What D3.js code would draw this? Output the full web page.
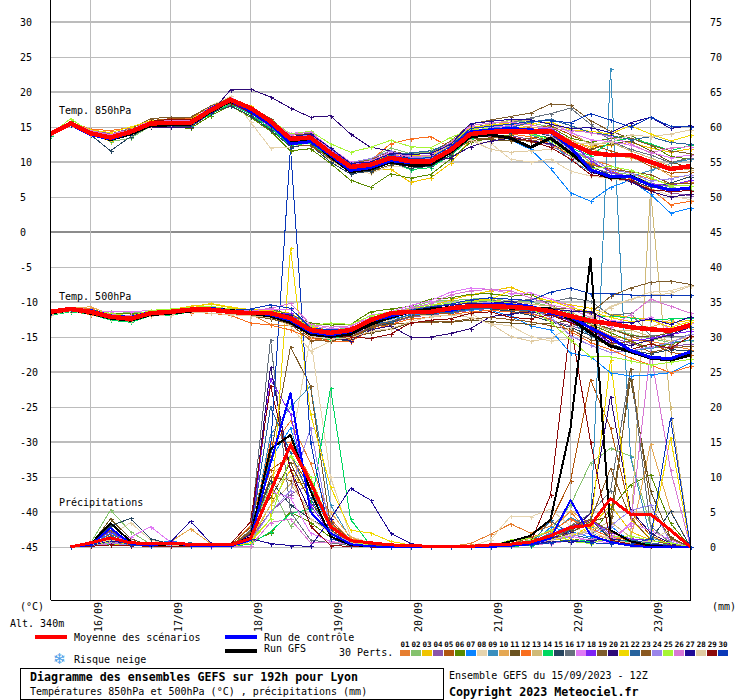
<!DOCTYPE html>
<html><head><meta charset="utf-8">
<script src="https://cdn.jsdelivr.net/npm/d3@7/dist/d3.min.js"></script>
<style>html,body{margin:0;padding:0;background:#fff}svg{display:block}text{font-family:"DejaVu Sans Mono",monospace;font-size:10px;fill:#000}</style>
</head><body><svg id="c" width="740" height="700"></svg>
<script>
const dates=["16/09","17/09","18/09","19/09","20/09","21/09","22/09","23/09"];
const dateSteps=[2,6,10,14,18,22,26,30];
const leftTicks=[30,25,20,15,10,5,0,-5,-10,-15,-20,-25,-30,-35,-40,-45];
const rightTicks=[75,70,65,60,55,50,45,40,35,30,25,20,15,10,5,0];
const pertColors=["#e67e30","#85c26d","#f0c400","#8b55a9","#b0560e","#5a8a00","#0a84ff","#e6d4ae","#3a8fbe","#e5a853","#6b5320","#f96e1e","#d0ba78","#00d860","#26455f","#66717d","#e07af5","#7d22f5","#7e5c2c","#2e0a78","#f0d800","#27639d","#8a5820","#9b85ea","#a6f535","#d877d4","#1e0a96","#e0cba2","#8c0a0a","#0a38b8"];

const t850Mean=[14.0,15.5,14.1,13.5,14.3,15.5,15.6,15.6,17.4,18.9,17.7,15.8,13.3,13.5,11.3,9.3,9.6,10.6,10.1,10.1,11.7,14.0,14.3,14.4,14.3,14.4,12.7,11.3,11.0,11.0,10.0,9.0,9.4];
const t850Control=[14.0,15.4,13.9,13.3,14.2,15.4,15.5,15.6,17.6,18.8,17.3,15.4,12.6,12.9,11.0,8.8,9.2,10.2,9.9,9.9,11.9,14.3,14.6,14.8,14.6,14.3,12.1,8.9,7.9,7.9,6.7,6.0,6.3];
const t850Gfs=[14.0,15.4,14.0,13.2,14.0,15.2,15.3,15.4,17.2,18.7,17.5,15.5,12.9,13.1,10.8,8.6,9.0,10.0,9.5,9.6,11.4,13.6,13.9,13.4,12.1,13.4,11.3,8.9,7.7,8.0,6.7,6.0,6.3];
const t850Perts=[
[14.1,15.6,14.4,13.8,14.6,15.8,15.9,15.4,17.6,18.6,17.2,15.2,12.8,13.1,11.0,9.0,9.2,10.2,9.8,9.7,11.2,13.6,13.9,14.2,14.0,14.1,11.6,10.4,9.5,8.4,7.6,6.8,7.2],
[13.9,15.3,14.2,12.9,13.4,15.1,15.6,15.5,17.0,18.4,17.6,15.9,13.6,14.0,11.8,9.9,10.4,12.0,11.2,11.4,12.6,14.8,15.4,16.0,15.6,15.0,12.0,10.0,8.6,8.2,7.0,6.4,6.0],
[14.0,15.4,13.9,13.0,14.2,15.7,15.8,15.8,17.8,19.1,18.0,16.0,13.2,13.4,10.9,8.4,8.8,9.0,7.1,7.7,9.8,13.2,14.6,15.0,14.8,14.2,12.9,12.2,12.4,12.8,12.0,11.4,11.9],
[14.2,15.5,14.6,14.0,14.8,15.4,15.2,15.0,16.9,18.2,17.0,15.0,12.6,12.9,10.6,8.8,9.4,10.6,10.4,10.2,11.8,14.2,13.6,13.8,13.2,12.4,10.8,9.2,8.4,8.0,6.6,5.6,5.2],
[13.8,15.7,14.0,13.2,14.4,15.9,16.2,16.3,17.9,19.2,17.9,15.8,12.9,13.0,10.8,8.9,9.1,9.8,9.4,9.9,11.6,13.8,14.8,14.6,14.9,15.2,13.9,12.6,11.6,10.8,9.4,8.4,8.6],
[14.0,15.8,13.8,13.4,14.1,15.2,15.0,14.8,16.6,18.0,16.4,14.4,11.6,11.9,9.8,7.4,6.4,8.3,7.7,8.2,10.4,12.8,13.4,13.9,14.2,15.0,13.4,12.8,13.4,13.8,12.4,10.8,10.4],
[14.1,15.5,14.3,13.6,14.3,15.5,15.7,15.6,17.2,18.9,17.4,15.4,13.0,13.2,11.2,9.4,9.8,10.8,10.6,10.7,12.2,13.9,14.0,13.2,11.8,9.1,5.6,4.4,6.4,7.4,5.4,2.7,3.4],
[13.9,15.6,14.1,13.7,14.0,15.3,15.4,15.7,18.0,19.4,15.7,12.0,12.1,12.8,10.2,8.6,8.4,9.4,9.2,9.6,11.4,13.0,12.7,10.4,10.0,10.4,8.7,8.0,7.6,7.2,6.2,5.2,4.6],
[14.0,15.4,14.2,13.4,14.2,15.6,15.5,15.3,17.3,18.7,17.1,15.1,12.4,13.0,11.1,9.2,9.5,10.5,9.9,10.0,11.5,14.4,14.9,15.1,13.9,12.8,10.3,8.6,8.0,7.9,8.8,9.8,10.4],
[13.8,15.5,14.5,13.9,14.7,15.6,15.7,15.9,17.7,18.8,17.5,15.6,13.4,13.6,11.5,9.6,9.9,10.9,10.8,10.3,11.9,14.6,15.2,15.4,15.0,14.6,13.2,11.9,11.0,10.6,9.8,8.0,7.8],
[14.1,15.6,14.0,13.3,14.1,15.4,15.3,15.5,17.1,18.5,17.3,15.3,12.7,12.6,10.4,8.7,8.6,9.6,9.6,9.8,11.3,13.4,13.2,13.0,13.4,13.8,12.2,11.8,12.6,13.0,11.6,10.0,9.2],
[14.0,15.7,14.7,14.5,14.9,15.8,16.0,16.2,17.5,18.9,17.8,15.7,13.1,13.3,11.4,9.7,10.2,12.6,13.3,13.6,12.1,14.1,14.5,14.0,13.6,12.6,11.0,9.8,8.8,7.6,6.2,3.9,4.4],
[14.2,15.4,14.3,13.9,14.5,15.5,15.6,15.8,17.9,19.0,17.7,15.5,13.5,13.7,11.6,9.5,9.7,11.1,10.9,10.8,12.4,14.7,15.5,15.9,15.9,15.4,14.4,12.4,12.8,11.6,10.6,9.4,8.8],
[13.7,15.3,14.0,13.1,13.9,15.1,15.2,15.2,16.8,18.3,16.8,14.8,12.4,12.7,10.6,8.5,9.0,10.1,8.9,9.2,10.9,13.3,14.0,14.3,14.1,13.3,12.0,10.9,12.9,13.4,12.6,11.6,12.4],
[14.0,15.5,13.9,11.6,13.6,15.2,15.1,15.0,17.0,18.0,16.6,14.6,12.2,12.4,10.0,8.3,8.7,9.9,9.1,9.4,11.0,13.7,14.2,14.1,14.4,13.7,11.9,9.4,8.1,7.4,6.4,7.0,7.9],
[14.3,15.6,14.2,13.5,14.4,15.7,15.9,16.0,17.5,18.6,17.0,15.2,13.0,13.2,11.1,9.1,9.4,10.3,10.0,10.3,12.0,15.0,15.3,15.6,16.3,16.9,17.7,15.4,13.0,11.8,11.0,9.9,10.6],
[13.9,15.5,14.3,13.7,14.6,15.9,15.9,15.7,17.6,18.7,17.2,15.6,14.1,14.3,12.0,10.0,10.1,11.4,10.8,10.9,12.6,15.1,15.0,15.2,15.5,15.7,14.2,13.2,12.9,12.4,11.4,10.6,11.0],
[14.0,15.4,14.1,13.6,14.3,15.6,15.8,15.6,17.4,18.4,17.0,15.1,13.4,13.8,11.7,9.7,10.0,11.0,10.5,10.4,12.3,14.5,14.4,14.7,14.6,14.9,12.9,10.2,8.6,7.8,6.9,6.6,7.4],
[13.8,15.6,14.4,13.8,14.7,16.2,16.4,16.4,18.0,19.0,17.9,16.2,13.8,14.1,11.9,9.8,10.3,11.6,11.0,11.3,13.0,15.4,16.0,16.5,17.0,18.3,18.1,15.9,14.4,13.4,12.4,11.6,11.2],
[14.0,15.4,14.0,13.4,14.2,15.0,15.0,15.0,17.0,20.3,20.4,19.3,17.7,16.4,16.6,14.0,12.1,11.6,10.4,10.0,10.6,12.2,13.0,13.4,13.0,12.6,11.4,8.5,8.0,7.2,5.8,5.0,5.4],
[14.1,15.7,14.6,14.2,15.0,15.9,16.0,16.1,17.7,19.0,17.6,15.8,13.3,13.6,11.3,9.5,9.9,11.2,11.0,10.9,12.7,14.9,15.3,15.6,15.5,15.7,14.6,14.4,14.0,15.2,14.0,13.0,13.8],
[14.0,15.5,14.2,13.5,14.3,15.5,15.6,15.4,17.3,18.6,17.3,15.4,13.2,13.5,11.4,9.5,9.8,11.0,11.3,11.6,12.6,14.3,14.7,14.9,15.7,16.1,15.2,14.2,13.8,13.2,13.6,12.8,12.5],
[13.9,15.4,14.1,13.6,14.1,15.3,15.4,15.3,17.1,18.6,17.6,15.6,12.5,12.3,10.5,8.8,9.2,10.4,10.1,9.8,11.5,13.0,13.5,13.3,12.9,13.6,11.2,9.6,9.0,8.6,8.2,6.9,7.0],
[14.1,15.5,14.3,13.7,14.4,15.6,15.7,15.6,17.5,18.7,17.4,15.6,13.6,13.9,11.9,9.9,10.5,11.6,10.7,10.5,12.0,14.2,14.4,14.9,14.6,13.8,11.7,10.6,8.9,8.4,7.3,7.6,8.2],
[13.9,16.2,14.3,13.8,14.5,15.7,15.7,15.8,17.5,18.8,17.6,16.0,14.0,14.4,12.6,11.4,12.1,13.1,12.2,12.0,13.5,14.6,14.8,14.6,14.0,13.1,11.0,9.0,9.4,8.8,7.8,6.6,6.6],
[14.2,15.7,14.5,13.9,14.6,15.8,16.0,15.9,17.8,19.1,17.8,15.9,13.9,14.3,11.6,9.6,10.2,11.3,10.7,11.0,12.8,15.2,15.6,15.7,15.3,14.8,14.5,14.2,13.6,12.6,11.3,12.0,12.2],
[14.0,15.3,14.1,13.5,14.2,15.4,15.2,15.4,17.2,18.5,17.0,15.2,13.6,14.0,12.0,9.8,10.0,11.2,11.1,11.2,12.5,15.5,15.8,16.1,16.0,15.4,14.8,14.9,14.2,15.6,16.4,14.8,15.2],
[13.9,15.5,14.0,13.3,14.0,15.2,15.4,15.5,17.4,18.8,17.4,15.5,13.0,13.4,11.2,9.0,9.4,10.6,10.2,10.2,11.8,13.2,11.8,11.4,11.6,11.8,12.8,12.6,12.8,13.9,13.6,14.0,14.6],
[14.1,15.6,14.2,13.6,14.4,15.8,16.1,16.0,17.4,18.4,17.1,15.3,12.7,13.0,10.9,9.2,9.4,10.4,10.0,10.1,11.7,14.0,13.8,13.6,13.0,12.1,10.4,8.2,7.7,7.4,6.0,5.8,5.9],
[14.0,15.5,14.1,13.5,14.2,15.5,15.6,15.5,17.3,18.8,17.5,15.5,12.9,13.3,11.1,9.1,9.6,10.8,10.5,10.6,12.2,14.8,15.1,15.4,15.8,15.9,15.6,16.9,16.0,15.0,16.4,15.1,15.0]
];

const t500Mean=[-11.4,-11.0,-11.4,-12.1,-12.4,-11.6,-11.4,-11.1,-11.1,-11.4,-11.6,-11.6,-12.3,-14.0,-14.4,-14.0,-12.6,-11.6,-11.4,-11.4,-10.9,-10.6,-10.6,-10.7,-10.9,-11.3,-12.0,-12.7,-13.1,-13.6,-13.9,-14.1,-13.3];
const t500Control=[-11.5,-11.1,-11.2,-12.0,-12.2,-11.5,-11.3,-11.0,-10.9,-11.3,-11.5,-11.8,-12.6,-14.3,-14.7,-14.2,-12.7,-12.0,-11.4,-11.3,-11.2,-10.6,-10.3,-10.4,-10.6,-11.6,-12.1,-13.7,-15.1,-16.9,-17.9,-18.1,-17.1];
const t500Gfs=[-11.6,-11.1,-11.6,-12.3,-12.6,-11.8,-11.6,-11.3,-11.0,-11.2,-11.6,-12.0,-12.9,-14.6,-14.9,-14.6,-13.2,-12.2,-11.4,-11.0,-10.8,-10.5,-10.4,-10.9,-10.8,-11.0,-12.4,-14.4,-16.3,-17.1,-18.0,-18.3,-17.6];
const t500Perts=[
[-11.5,-11.0,-10.9,-12.0,-12.2,-11.6,-11.2,-11.2,-11.0,-11.5,-11.7,-13.2,-13.4,-14.4,-15.0,-15.4,-13.4,-12.6,-12.0,-11.8,-11.0,-10.6,-10.1,-10.3,-11.2,-11.4,-12.6,-13.4,-14.8,-15.4,-15.6,-16.2,-16.8],
[-11.4,-10.9,-11.3,-11.3,-11.5,-11.4,-11.2,-10.9,-10.9,-11.2,-11.5,-11.4,-12.0,-13.6,-14.0,-13.7,-12.4,-11.6,-10.8,-9.9,-9.8,-9.6,-9.4,-9.9,-10.0,-10.6,-11.6,-13.0,-13.9,-14.6,-15.2,-15.8,-15.5],
[-11.3,-10.9,-11.2,-11.9,-12.1,-11.4,-11.1,-10.6,-10.3,-10.8,-11.2,-11.2,-11.6,-13.4,-14.2,-13.9,-12.6,-11.7,-11.0,-10.6,-9.7,-9.0,-8.4,-7.9,-9.0,-9.9,-10.4,-10.9,-11.8,-12.2,-12.5,-13.0,-12.6],
[-11.6,-11.1,-11.5,-12.2,-12.5,-11.7,-11.5,-11.1,-11.2,-11.5,-11.8,-12.0,-12.8,-14.2,-14.6,-14.8,-13.6,-13.0,-12.2,-11.8,-11.6,-11.2,-10.9,-11.0,-11.5,-12.6,-13.4,-14.2,-15.0,-15.9,-16.6,-16.4,-16.0],
[-11.5,-11.1,-11.4,-12.3,-12.7,-11.9,-11.6,-11.2,-11.1,-11.6,-11.9,-12.2,-13.0,-15.1,-15.4,-15.2,-13.8,-12.9,-11.9,-11.6,-11.6,-11.0,-10.8,-11.2,-11.4,-11.8,-12.4,-13.1,-13.8,-14.9,-15.8,-17.2,-17.6],
[-11.3,-10.8,-11.1,-11.6,-11.7,-11.5,-11.3,-10.9,-10.8,-11.0,-11.3,-11.0,-11.8,-13.0,-13.3,-13.2,-11.4,-11.0,-10.6,-9.6,-9.4,-8.9,-8.8,-9.2,-8.9,-10.4,-12.0,-13.2,-14.4,-15.6,-16.6,-16.0,-15.4],
[-11.5,-11.2,-11.5,-12.4,-12.6,-11.6,-11.4,-11.3,-11.2,-11.5,-11.6,-11.9,-12.8,-14.6,-15.0,-14.8,-13.0,-12.4,-11.9,-11.7,-11.4,-11.1,-11.2,-12.0,-13.4,-14.0,-17.3,-17.8,-20.1,-20.6,-20.4,-20.1,-18.7],
[-11.6,-11.2,-11.6,-12.2,-12.4,-11.9,-11.7,-11.4,-11.3,-11.6,-12.0,-12.2,-13.4,-17.0,-15.6,-14.6,-13.2,-12.6,-12.0,-11.9,-11.9,-11.7,-13.1,-13.4,-14.9,-15.6,-15.2,-13.2,-10.6,-9.6,-8.6,-8.4,-7.6],
[-11.4,-11.0,-11.3,-12.0,-12.3,-11.5,-11.3,-11.0,-11.0,-11.4,-11.4,-11.3,-11.9,-13.9,-14.3,-14.1,-12.8,-12.2,-11.5,-11.1,-10.7,-10.4,-10.1,-10.2,-10.5,-11.2,-12.8,-14.8,-16.4,-17.0,-16.6,-15.8,-15.4],
[-11.2,-10.8,-10.7,-11.7,-12.0,-11.3,-11.0,-10.8,-10.7,-11.1,-11.4,-11.5,-12.2,-13.8,-14.2,-13.8,-12.4,-12.0,-11.3,-10.8,-10.2,-10.0,-9.6,-10.1,-10.8,-11.6,-12.6,-12.4,-13.2,-13.4,-13.6,-12.6,-13.8],
[-11.6,-11.1,-11.6,-12.4,-12.5,-11.8,-11.5,-11.4,-11.2,-11.7,-12.0,-12.4,-13.1,-14.7,-15.0,-15.1,-14.4,-13.9,-13.0,-12.8,-12.9,-12.6,-12.8,-13.0,-13.2,-13.0,-12.7,-13.0,-13.8,-14.8,-15.0,-14.4,-13.6],
[-11.7,-11.3,-11.8,-12.5,-12.8,-12.0,-11.7,-11.5,-11.6,-11.9,-13.0,-13.3,-14.0,-15.2,-15.6,-15.7,-14.0,-13.2,-12.4,-12.2,-11.8,-11.4,-11.2,-11.4,-11.7,-12.4,-14.2,-15.8,-16.8,-18.0,-19.0,-20.1,-19.2],
[-11.4,-11.0,-11.2,-11.9,-12.2,-11.7,-11.5,-11.1,-10.9,-11.3,-11.5,-11.5,-12.0,-13.8,-14.5,-14.2,-13.0,-11.8,-11.2,-10.9,-10.9,-10.4,-10.0,-9.8,-10.3,-10.6,-11.4,-12.8,-14.2,-14.0,-14.9,-15.6,-15.0],
[-11.9,-11.4,-11.7,-12.6,-12.9,-12.0,-11.9,-11.4,-11.3,-11.6,-11.7,-11.8,-12.7,-14.8,-15.4,-14.4,-12.6,-11.9,-11.3,-11.0,-10.6,-10.8,-10.6,-10.7,-11.1,-11.4,-12.0,-12.2,-12.0,-12.3,-12.6,-12.4,-12.3],
[-11.5,-11.0,-11.4,-12.0,-12.3,-11.6,-11.4,-11.2,-11.2,-11.4,-11.8,-11.7,-12.9,-14.5,-15.2,-15.6,-13.7,-13.0,-12.0,-11.7,-11.3,-10.9,-11.0,-11.3,-11.9,-12.8,-13.6,-14.8,-16.0,-16.9,-17.4,-16.8,-17.0],
[-11.3,-11.0,-11.2,-12.0,-12.2,-11.5,-11.3,-11.0,-11.1,-11.3,-11.5,-10.8,-12.4,-14.0,-14.3,-13.9,-12.2,-11.6,-11.1,-10.6,-10.4,-10.1,-9.8,-10.0,-9.6,-10.0,-9.4,-9.9,-11.9,-11.6,-14.8,-15.0,-14.8],
[-11.4,-10.9,-11.3,-11.4,-11.4,-11.2,-11.0,-10.9,-10.8,-11.2,-11.3,-11.0,-11.0,-13.4,-13.8,-13.6,-11.9,-11.4,-10.5,-9.8,-8.6,-8.0,-8.2,-8.8,-8.7,-9.6,-10.6,-11.8,-12.6,-13.0,-12.2,-13.9,-13.0],
[-11.5,-11.0,-11.4,-12.2,-12.4,-11.7,-11.4,-11.2,-11.2,-11.5,-11.7,-11.6,-11.6,-13.9,-14.4,-14.0,-12.8,-12.1,-11.4,-11.2,-11.0,-10.6,-10.7,-10.9,-11.0,-11.4,-12.8,-14.0,-15.9,-15.6,-15.2,-14.6,-14.2],
[-11.6,-11.1,-11.5,-12.1,-12.3,-11.6,-11.4,-11.1,-11.0,-11.3,-11.6,-11.8,-12.4,-14.2,-14.8,-14.5,-13.5,-12.8,-12.1,-11.6,-11.2,-10.8,-10.9,-10.8,-10.8,-10.9,-11.0,-11.6,-9.2,-8.0,-7.2,-7.0,-7.5],
[-11.4,-11.0,-11.3,-11.9,-12.2,-11.6,-11.5,-11.2,-11.1,-11.4,-11.8,-12.1,-13.2,-14.8,-15.0,-15.5,-14.0,-13.4,-15.0,-15.0,-14.5,-13.8,-12.1,-11.7,-11.4,-11.9,-12.6,-13.6,-15.8,-16.2,-15.4,-14.7,-13.6],
[-11.5,-11.0,-11.3,-12.0,-12.3,-11.5,-11.2,-10.9,-10.2,-10.7,-11.1,-11.2,-12.0,-13.6,-14.1,-14.0,-13.0,-12.0,-11.6,-11.0,-10.8,-9.8,-9.6,-8.4,-9.4,-9.8,-10.8,-11.4,-12.2,-12.8,-12.6,-13.6,-12.8],
[-11.6,-11.1,-11.6,-12.2,-12.6,-11.8,-11.6,-11.3,-11.2,-11.5,-11.5,-11.3,-12.4,-14.4,-14.6,-14.7,-13.2,-12.8,-11.7,-11.5,-11.5,-11.0,-10.9,-11.0,-11.3,-11.6,-12.2,-12.6,-13.2,-13.4,-13.7,-14.2,-13.6],
[-11.7,-11.2,-11.6,-12.3,-12.5,-11.9,-11.6,-11.2,-11.2,-11.6,-11.9,-12.3,-13.2,-15.5,-15.6,-15.0,-13.6,-13.2,-13.0,-12.9,-12.8,-12.4,-12.2,-12.5,-12.8,-13.4,-13.9,-15.4,-16.0,-15.6,-17.2,-16.6,-16.3],
[-11.4,-11.0,-11.4,-12.1,-12.4,-11.6,-11.3,-11.1,-11.0,-11.4,-11.6,-11.7,-12.6,-14.1,-14.5,-14.3,-13.0,-12.2,-11.6,-11.2,-11.0,-10.4,-10.0,-10.5,-11.0,-12.2,-14.8,-16.2,-17.2,-17.0,-16.4,-15.8,-14.6],
[-11.6,-10.9,-11.2,-11.6,-12.0,-11.2,-11.0,-10.8,-10.6,-11.0,-11.4,-11.4,-12.2,-13.4,-13.0,-13.2,-12.0,-11.4,-10.9,-10.4,-10.2,-9.9,-9.8,-10.2,-10.8,-12.9,-15.4,-17.8,-17.8,-18.4,-19.0,-18.6,-18.2],
[-11.3,-10.8,-11.1,-11.8,-12.0,-11.4,-11.2,-11.0,-10.9,-11.1,-11.3,-10.9,-10.2,-13.2,-13.6,-13.4,-12.3,-11.5,-10.9,-10.2,-9.0,-8.4,-8.2,-8.4,-9.4,-10.4,-11.0,-12.2,-13.6,-11.8,-9.6,-10.6,-11.6],
[-11.5,-11.0,-11.4,-12.2,-12.3,-11.6,-11.5,-11.2,-11.1,-11.3,-11.6,-11.4,-11.9,-14.0,-14.4,-14.1,-12.7,-11.7,-11.2,-10.8,-10.4,-10.2,-10.2,-9.9,-10.6,-11.0,-11.3,-11.4,-12.8,-13.0,-12.4,-13.2,-12.1],
[-11.8,-11.3,-11.7,-12.4,-12.7,-12.0,-11.8,-11.4,-11.6,-11.8,-12.0,-12.2,-13.0,-14.9,-15.3,-15.1,-14.2,-13.8,-12.8,-12.1,-11.9,-12.2,-13.1,-14.9,-15.6,-15.2,-13.6,-12.0,-10.8,-9.6,-9.0,-8.8,-7.7],
[-11.4,-11.1,-11.4,-12.1,-12.4,-11.7,-11.4,-11.1,-11.0,-11.3,-11.6,-11.9,-12.8,-14.3,-14.8,-15.0,-15.2,-14.6,-13.0,-12.6,-12.4,-11.6,-11.4,-12.2,-12.4,-11.8,-13.0,-14.0,-15.4,-16.8,-16.0,-16.6,-14.9],
[-11.5,-11.0,-11.3,-11.9,-12.1,-11.5,-11.3,-11.0,-10.9,-11.2,-11.0,-10.4,-10.9,-13.7,-14.0,-13.8,-12.5,-11.8,-11.2,-10.7,-10.3,-9.7,-9.4,-9.6,-9.8,-8.6,-8.0,-8.8,-8.8,-9.0,-9.0,-9.0,-9.0]
];

const rainMean=[0,0.6,1.3,0.6,0.5,0.5,0.4,0.3,0.3,1.2,7.9,14.6,9.3,2.9,0.9,0.6,0.3,0.2,0.1,0.1,0.1,0.3,0.4,0.7,1.6,2.8,3.1,6.9,4.7,4.7,2.4,0];
const rainControl=[0,0.3,2.7,0.5,0.2,0.6,0.2,0.1,0.1,1.0,12.0,22.0,5.0,2.0,0.4,0.1,0,0,0,0,0,0,0.2,0.4,1.2,6.7,1.7,0.7,0.2,0,0,0];
const rainGfs=[0,0.4,3.4,0.8,0.2,0.4,0.3,0.1,0.2,1.4,14.0,16.0,8.0,1.5,0.3,0.1,0,0,0,0,0,0.1,0.8,1.6,3.9,17.0,41.3,2.4,0.8,0.2,0,0];
const rainPerts=[
[0,0.3,1.5,0.5,0.3,0.4,0.5,0.2,0.2,3.0,14.0,18.0,12.0,4.0,1.0,0.5,0.2,0.1,0,0.1,0.5,1.8,3.3,2.0,3.0,5.0,2.0,1.0,0.6,0.4,0.2,0],
[0,0.5,5.3,2.2,0.4,0.2,0.1,0.2,0.1,1.6,9.0,3.0,6.0,2.0,0.5,0.2,0,0,0,0,0,0.1,0.5,1.0,2.4,6.0,12.0,14.1,13.0,3.0,0.5,0],
[0,0.2,0.6,0.4,0.2,0.1,0.1,0.1,0.2,0.8,6.0,11.0,7.0,2.0,0.4,0.2,0,0,0,0,0,0,0.2,0.3,0.5,1.2,2.8,6.0,2.2,1.0,0.3,0],
[0,0.2,0.9,0.3,0.2,0.4,0.2,0,0.1,1.2,5.0,7.5,9.0,3.5,1.0,0.4,0.1,0,0,0,0,0,0.1,0.4,1.4,2.0,4.0,1.6,1.0,0.5,0.2,0],
[0,0.4,1.8,0.7,0.3,0.2,0.3,0.4,0.3,2.8,11.0,13.0,8.5,2.5,0.6,0.2,0,0,0,0,0.1,0.2,0.4,1.6,3.6,9.4,23.9,17.0,5.0,1.6,0.4,0],
[0,0.3,0.8,0.2,0.1,0.3,0.2,0.1,0.2,0.6,2.0,5.0,3.5,1.4,0.5,0.2,0,0,0,0,0,0.1,0.3,0.5,1.2,0.8,1.6,5.4,8.9,10.3,3.4,0],
[0,0.2,2.0,0.6,0.3,0.9,0.3,0.2,0.1,1.4,12.5,17.0,8.0,3.0,0.8,0.3,0.1,0,0,0,0,0,0.2,0.4,2.8,2.2,1.4,3.0,0.8,0.4,0.1,0],
[0,0.5,1.6,3.5,1.0,0.3,0.2,0.1,0.2,2.2,8.0,14.0,30.0,10.0,1.5,0.6,0.2,0,0,0,0.1,1.0,4.4,4.3,5.4,3.0,1.8,1.4,0.6,0.2,0.1,0],
[0,0.2,1.0,0.4,0.3,0.6,0.5,0.3,0.1,1.0,16.0,20.0,23.0,6.0,1.2,0.3,0,0,0,0,0,0.1,0.2,0.6,2.0,4.2,2.8,68.3,12.9,1.4,0.3,0],
[0,0.4,1.2,0.5,0.6,0.7,2.6,0.5,0.1,1.8,10.0,13.0,7.0,5.0,1.4,0.5,0.2,0.1,0,0,0,0.3,0.8,1.2,2.2,5.2,3.2,1.6,0.9,14.7,5.2,0],
[0,0.3,4.0,1.2,0.2,0.3,0.2,0.1,0.4,3.6,7.0,12.0,6.5,2.2,0.6,0.3,0.1,0,0,0,0,0,0.3,0.5,1.0,2.0,3.6,4.4,24.0,8.0,1.4,0],
[0,0.3,0.7,0.3,0.2,0.2,0.1,0.1,0.2,1.4,15.0,15.0,10.0,3.2,1.2,0.6,0.2,0.1,0,0,0,0.1,0.4,1.4,2.2,4.0,2.6,1.4,1.0,0.6,0.2,0],
[0,0.2,1.4,0.4,0.1,0.1,0.2,0.1,0.1,1.2,6.0,9.0,5.0,1.8,0.7,0.2,0,0,0,0,0,0,0.3,0.6,0.9,1.4,2.4,3.6,1.4,51.0,20.0,0],
[0,0.1,0.4,0.2,0.1,0.1,0.1,0,0.1,0.4,2.2,4.8,5.4,22.7,4.0,0.2,0,0,0,0,0,0,0.1,0.2,0.6,1.0,0.8,0.9,0.7,0.5,0.3,0],
[0,0.3,3.0,4.1,1.2,0.4,0.2,0.1,0.2,1.8,9.5,6.0,4.0,2.4,0.4,0.1,0,0,0,0,0,0,0.2,0.5,1.6,2.4,3.9,1.2,0.8,0.9,5.1,0],
[0,0.2,0.7,0.2,0.1,0.2,0.1,0.1,0.1,2.4,29.6,5.0,1.0,0.6,0.2,0.1,0,0,0,0,0,0,0.1,0.3,0.7,3.0,4.8,8.0,25.5,3.0,0.6,0],
[0,0.2,1.1,1.4,2.9,0.7,0.3,0.1,0.1,1.6,8.0,7.0,2.0,0.8,0.4,0.1,0,0,0,0,0,0,0.2,0.4,1.0,1.6,0.9,0.6,3.4,2.4,1.0,0],
[0,0.4,2.2,0.6,0.2,0.8,0.2,0.2,0.1,1.0,24.0,19.0,6.0,2.0,0.5,0.2,0.1,0,0,0,0,0,0.2,0.6,1.8,3.0,3.8,2.0,1.2,0.9,0.4,0],
[0,0.3,2.4,0.5,0.1,0.2,0.4,0.3,0.2,2.2,13.0,28.6,23.0,3.0,0.9,0.3,0,0,0,0,0,0.1,0.3,0.6,1.4,3.0,4.0,2.2,25.5,6.0,1.2,0],
[0,0.2,1.0,0.5,0.4,0.2,0.1,0.2,0.1,1.8,25.7,11.0,5.0,2.0,0.6,0.2,0,0,0,0,0,0,0.2,0.5,1.2,2.2,4.8,21.5,5.3,2.0,0.5,0],
[0,0.2,0.5,0.2,0.1,0.1,0.1,0.1,0.1,0.6,4.0,42.7,19.0,8.6,2.4,2.0,0.8,0.3,0,0,0,0,0.1,0.3,0.9,1.4,3.0,26.7,4.0,1.2,15.6,0],
[0,0.3,1.6,0.5,0.2,0.3,0.6,0.2,0.1,1.4,20.0,13.5,7.0,1.8,0.4,0.2,0,0,0,0,0,0,0.2,0.4,3.8,1.8,1.2,0.8,1.0,0.6,0.2,0],
[0,0.2,1.3,0.3,0.1,0.2,0.1,0.1,0.2,2.0,10.0,9.5,8.8,3.6,1.0,0.3,0.1,0,0,0,0,0,0.3,1.4,0.7,2.6,3.8,11.2,4.2,1.0,0.3,0],
[0,0.1,0.6,0.2,0.3,0.2,0.2,0.1,0.1,0.8,5.0,8.0,17.0,2.2,0.6,0.2,0,0,0,0,0,0,0.2,0.3,1.0,1.5,2.0,3.0,5.2,6.0,0.7,0],
[0,0.2,0.8,0.4,0.2,0.1,0.1,0.1,0.1,0.9,4.0,13.0,10.0,3.0,0.8,0.2,0,0,0,0,0,0.1,1.0,1.2,2.4,0.8,0.5,1.4,1.6,0.9,0.6,0],
[0,0.1,0.5,0.8,0.2,0.1,0.1,0,0.1,0.1,3.5,4.0,0.6,0.7,0.4,0.2,0,0,0,0,0,0,0.2,0.3,0.5,0.9,1.1,1.4,3.0,28.0,11.0,0],
[0,0.2,0.9,0.4,0.2,0.7,3.7,0.6,0.2,1.2,0.5,0.2,0.1,4.0,8.4,6.7,2.0,0.5,0.1,0,0,0,0.1,0.3,0.8,0.7,0.9,1.2,0.5,0.4,0.2,0],
[0,0.3,1.0,0.6,0.2,0.3,0.1,0.1,0.2,1.5,8.5,10.0,4.0,2.1,0.5,0.2,0,0,0,0,0,0.2,0.5,0.7,1.0,1.8,2.4,1.0,0.6,0.8,2.6,0],
[0,0.1,0.3,0.2,0.1,0.1,0.1,0.1,0.4,3.6,23.0,11.0,3.0,0.2,0.1,0,0,0,0,0,0,0,0.2,0.6,7.4,32.0,15.0,1.0,0.4,0.2,0.1,0],
[0,0.3,1.2,0.3,0.2,0.5,0.2,0.1,0.1,1.2,14.0,57.0,15.0,1.2,0.3,0.1,0,0,0,0,0,0,0.1,0.3,0.6,1.0,0.6,0.5,0.4,1.2,18.4,0]
];

const x=d3.scaleLinear().domain([0,32]).range([50.5,690.5]);
const yT=d3.scaleLinear().domain([-45,30]).range([547,22]);
const yR=d3.scaleLinear().domain([0,75]).range([547,22]);
const svg=d3.select("#c");

// grid
const grid=svg.append("g").attr("shape-rendering","crispEdges");
grid.selectAll("line.h").data(leftTicks).join("line").attr("class","h")
 .attr("x1",x(0)).attr("x2",x(32)).attr("y1",d=>yT(d)).attr("y2",d=>yT(d))
 .attr("stroke",d=>d===0?"#8c8c8c":"#bcbcbc").attr("stroke-width",d=>d%10===0?2:1);
grid.selectAll("line.v").data(dateSteps).join("line").attr("class","v")
 .attr("x1",d=>x(d)).attr("x2",d=>x(d)).attr("y1",0).attr("y2",600).attr("stroke","#bcbcbc").attr("stroke-width",1);

// axes
const axL=d3.axisLeft(yT).tickValues(leftTicks).tickSize(0).tickFormat(d3.format("d"));
const gL=svg.append("g").attr("transform","translate(20,0)").call(axL);
gL.select(".domain").remove();
gL.selectAll("text").attr("x",0).attr("text-anchor","start").style("font-size","10px").style("font-family",'"DejaVu Sans Mono"').text(d=>String(d));
const axR=d3.axisRight(yR).tickValues(rightTicks).tickSize(0);
const gR=svg.append("g").attr("transform","translate(710,0)").call(axR);
gR.select(".domain").remove();
gR.selectAll("text").attr("x",0).attr("text-anchor","start").style("font-size","10px").style("font-family",'"DejaVu Sans Mono"');

// date axis
const axB=d3.axisBottom(x).tickValues(dateSteps).tickSize(0).tickFormat((d,i)=>dates[i]);
const gB=svg.append("g").attr("transform","translate(0,600)").call(axB);
gB.select(".domain").remove();
gB.selectAll("text").attr("x",null).attr("y",null).attr("dy",null).attr("text-anchor","end")
 .attr("transform","translate(11,2) rotate(-90)").style("font-size","10px").style("font-family",'"DejaVu Sans Mono"');

// series
function drawSeries(vals,y,offset,color,width,markers){
  const pts=vals.map((v,i)=>[i+offset,v]);
  const line=d3.line().x(d=>x(d[0])).y(d=>y(d[1]));
  const g=svg.append("g").attr("shape-rendering","crispEdges");
  g.append("path").attr("d",line(pts)).attr("fill","none").attr("stroke",color).attr("stroke-width",width).attr("stroke-linejoin","round");
  if(markers){
    g.selectAll("path.m").data(pts).join("path").attr("class","m").attr("fill","none").attr("stroke",color).attr("stroke-width",1)
     .attr("d",d=>{const a=Math.round(x(d[0]))+.5,b=Math.round(y(d[1]))+.5;return `M${a-2},${b}H${a+2}M${a},${b-2}V${b+2}`;});
  }
}
rainPerts.forEach((s,i)=>drawSeries(s,yR,1,pertColors[i],1,true));
t500Perts.forEach((s,i)=>drawSeries(s,yT,0,pertColors[i],1,true));
t850Perts.forEach((s,i)=>drawSeries(s,yT,0,pertColors[i],1,true));
drawSeries(rainGfs,yR,1,"#000",2,false);drawSeries(rainControl,yR,1,"#0000ff",2,false);
drawSeries(t500Gfs,yT,0,"#000",3,false);drawSeries(t500Control,yT,0,"#0000ff",3,false);
drawSeries(t850Gfs,yT,0,"#000",3,false);drawSeries(t850Control,yT,0,"#0000ff",3,false);
drawSeries(rainMean,yR,1,"#ff0000",3,false);
drawSeries(t500Mean,yT,0,"#ff0000",4.5,false);
drawSeries(t850Mean,yT,0,"#ff0000",4.5,false);

// frame, drawn over the series ends
const frame=svg.append("g").attr("stroke","#000").attr("shape-rendering","crispEdges");
frame.append("line").attr("x1",x(0)).attr("x2",x(0)).attr("y1",0).attr("y2",600);
frame.append("line").attr("x1",x(32)).attr("x2",x(32)).attr("y1",0).attr("y2",600);
frame.append("line").attr("x1",x(0)).attr("x2",x(32)).attr("y1",600.5).attr("y2",600.5);

// labels
function label(px,py,s,opt={}){const t=svg.append("text").attr("x",px).attr("y",py).text(s);if(opt.size)t.style("font-size",opt.size+"px");if(opt.bold)t.style("font-weight","bold");if(opt.fill)t.style("fill",opt.fill);return t;}
label(59,114,"Temp. 850hPa");label(59,300,"Temp. 500hPa");label(59,506,"Précipitations");
label(20,610,"(°C)");label(712,610,"(mm)");label(10,627,"Alt. 340m");

// legend
const lg=svg.append("g").attr("shape-rendering","crispEdges");
lg.append("rect").attr("x",35).attr("y",635).attr("width",32).attr("height",4).attr("fill","#f00");
lg.append("rect").attr("x",225).attr("y",635).attr("width",32).attr("height",4).attr("fill","#00f");
lg.append("rect").attr("x",225).attr("y",649).attr("width",32).attr("height",4).attr("fill","#000");
label(74,641,"Moyenne des scénarios");label(264,641,"Run de contrôle");label(264,652,"Run GFS");
label(339,656,"30 Perts.");label(74,663,"Risque neige");
label(53,664,"❄",{size:15,fill:"#4f9fe8"}).style("font-family",'"DejaVu Sans"');
const sw=d3.scaleBand().domain(d3.range(30)).range([400,729.1]).paddingInner(0);
svg.append("g").attr("shape-rendering","crispEdges").selectAll("rect").data(pertColors).join("rect")
 .attr("x",(d,i)=>sw(i)).attr("y",650).attr("width",10).attr("height",6).attr("fill",d=>d);
svg.append("g").selectAll("text").data(pertColors).join("text").attr("x",(d,i)=>sw(i)+5).attr("y",647).attr("text-anchor","middle")
 .style("font-size","7.5px").style("font-weight","bold").text((d,i)=>String(i+1).padStart(2,"0"));

// title box
svg.append("rect").attr("x",20.5).attr("y",668.5).attr("width",423).attr("height",31).attr("fill","#fff").attr("stroke","#000").attr("shape-rendering","crispEdges");
label(30,681,"Diagramme des ensembles GEFS sur 192h pour Lyon",{bold:true,size:11.6});
label(30,695,"Températures 850hPa et 500hPa (°C) , précipitations (mm)");
label(449,679,"Ensemble GEFS du 15/09/2023 - 12Z");
label(449,696,"Copyright 2023 Meteociel.fr",{bold:true,size:11.67});
</script></body></html>
